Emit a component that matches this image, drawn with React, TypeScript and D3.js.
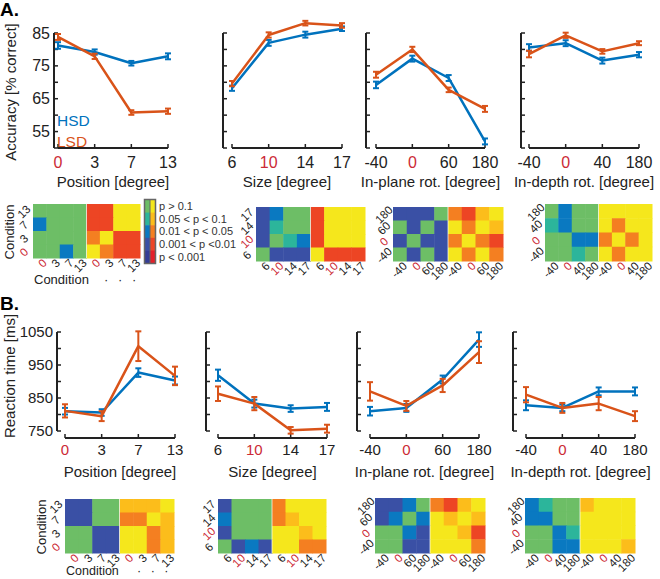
import React from "react";
import * as d3 from "d3";

const FONT = '"Liberation Sans", Arial, Helvetica, sans-serif';
const BLUE = "#0072bd";
const ORANGE = "#d95319";
const REF_RED = "#cc2a36";
const INK = "#222";

// ---- data ----
const categories = [
  ["0", "3", "7", "13"],
  ["6", "10", "14", "17"],
  ["-40", "0", "60", "180"],
  ["-40", "0", "40", "180"],
];
const refIndex = [0, 1, 1, 1];
const xTitles = ["Position [degree]", "Size [degree]", "In-plane rot. [degree]", "In-depth rot. [degree]"];

const accHSD = [
  [81.2, 79.2, 75.8, 77.9],
  [68.2, 82.0, 84.5, 86.3],
  [69.2, 77.2, 71.3, 52.0],
  [80.6, 81.9, 76.6, 78.4],
];
const accLSD = [
  [83.8, 77.9, 60.8, 61.2],
  [69.6, 84.4, 88.0, 87.3],
  [72.3, 80.0, 67.7, 61.9],
  [78.6, 84.3, 79.4, 81.9],
];
const accHSDErr = [
  [1.0, 0.8, 0.7, 0.9],
  [0.8, 0.9, 0.9, 0.7],
  [1.0, 0.9, 0.9, 0.9],
  [1.0, 0.9, 0.9, 0.8],
];
const accLSDErr = [
  [0.9, 0.8, 0.7, 0.8],
  [0.8, 0.8, 0.7, 0.7],
  [0.9, 0.8, 0.7, 0.9],
  [1.0, 0.8, 0.7, 0.6],
];

const rtHSD = [
  [810, 806, 927, 903],
  [919, 833, 818, 823],
  [810, 820, 906, 1027],
  [828, 820, 870, 870],
];
const rtLSD = [
  [811, 795, 1007, 917],
  [863, 833, 752, 757],
  [870, 826, 888, 989],
  [860, 820, 833, 795],
];
const rtHSDErr = [
  [10, 10, 13, 12],
  [17, 12, 10, 12],
  [13, 12, 12, 22],
  [15, 10, 12, 12],
];
const rtLSDErr = [
  [20, 15, 45, 28],
  [22, 20, 10, 12],
  [28, 15, 20, 33],
  [23, 15, 20, 15],
];

const accTicks = d3.range(50, 86, 5);
const accLabels = [55, 65, 75, 85];
const rtTicks = d3.range(750, 1051, 50);
const rtLabels = [750, 850, 950, 1050];

const pLegend = ["p > 0.1", "0.05 < p < 0.1", "0.01 < p < 0.05", "0.001 < p <0.01", "p < 0.001"];

// significance matrices, rows top->bottom (last category first), 4 HSD cols | 4 LSD cols
const heatA = [
  ["ggggrryy", "bgggrryy", "ggggoyrr", "ggbgyorr"],
  ["dbggryyy", "dtggryyy", "dgtbryyy", "gdddyrrr"],
  ["dddgoray", "gdgdyoya", "dgddoyor", "gdgdyoyo"],
  ["gbggyyyy", "tbggyoyy", "ggbboyoy", "ggtgyoyy"],
];
const heatB = [
  ["ddggaaay", "ddggooya", "ggddyyoa", "ggddyyoa"],
  ["dgggoyyy", "bgggoayy", "dgggyyay", "gdbdyyoo"],
  ["ddbgoray", "dbgbyaya", "ggbdyyar", "ggddyyyo"],
  ["btggayyy", "bbggyyyy", "ggbtyyyy", "ggbbyyya"],
];

const cellColors: Record<string, string> = {
  g: "#6dbe66",
  t: "#2cb59b",
  b: "#0a79c1",
  d: "#3a50a5",
  y: "#f5e71c",
  a: "#fcbd1b",
  o: "#f47f21",
  r: "#ed4524",
};
const barLeft = ["#6dbe66", "#2cb59b", "#0a79c1", "#3a50a5", "#343d96"];
const barRight = ["#f5e71c", "#fcbd1b", "#f47f21", "#ed4524", "#e3202a"];

// ---- layout ----
const panelA = {
  yAxisX: [54, 223, 366, 521],
  xRange: [[58, 168], [232, 342], [376, 485], [529, 639]],
  yRange: [148, 33],
  xAxisY: 148,
  tickY: 168,
  titleY: 187,
  tickFont: 16,
};
const panelB = {
  yAxisX: [57, 206, 357, 513],
  xRange: [[65, 175], [218, 327], [370, 479], [526, 635]],
  yRange: [431, 332],
  xAxisY: 438,
  tickY: 455,
  titleY: 477,
  tickFont: 15,
};
const hmA = [[33, 140, 204, 258], [256, 365, 207, 261], [393, 503, 207, 261], [545, 652, 204, 261]];
const hmB = [[65, 174, 499, 553], [218, 326, 499, 553], [375, 485, 498, 553], [525, 635, 498, 553]];

function LinePlot({ p, i, y, ticks, labels, hsd, lsd, hsdErr, lsdErr }: any) {
  const cats = categories[i];
  const x = d3.scalePoint<string>().domain(cats).range(p.xRange[i]);
  const line = d3
    .line<number>()
    .x((_, k) => x(cats[k])!)
    .y((v) => y(v));
  const ax = p.yAxisX[i];
  const series = [
    { vals: hsd[i], err: hsdErr[i], color: BLUE },
    { vals: lsd[i], err: lsdErr[i], color: ORANGE },
  ];
  return (
    <g>
      {/* y axis */}
      <line x1={ax} x2={ax} y1={y(ticks[0])} y2={y(ticks[ticks.length - 1])} stroke={INK} strokeWidth={2} />
      {ticks.map((t: number) => (
        <line key={t} x1={ax} x2={ax + 4} y1={y(t)} y2={y(t)} stroke={INK} strokeWidth={1.5} />
      ))}
      {i === 0 &&
        labels.map((t: number) => (
          <text key={t} x={ax - 4} y={y(t)} dy="0.35em" textAnchor="end" fontSize={p.tickFont} fill={INK}>
            {t}
          </text>
        ))}
      {/* x axis */}
      <line x1={p.xRange[i][0]} x2={p.xRange[i][1]} y1={p.xAxisY} y2={p.xAxisY} stroke={INK} strokeWidth={2} />
      {cats.map((c: string, k: number) => (
        <g key={c + k}>
          <line x1={x(c)} x2={x(c)} y1={p.xAxisY} y2={p.xAxisY - 4} stroke={INK} strokeWidth={1.5} />
          <text x={x(c)} y={p.tickY} textAnchor="middle" fontSize={p.tickFont} fill={k === refIndex[i] ? REF_RED : INK}>
            {c}
          </text>
        </g>
      ))}
      <text x={(p.xRange[i][0] + p.xRange[i][1]) / 2} y={p.titleY} textAnchor="middle" fontSize={15} fill={INK}>
        {xTitles[i]}
      </text>
      {series.map((s, si) => (
        <g key={si}>
          <path d={line(s.vals)!} fill="none" stroke={s.color} strokeWidth={2.5} strokeLinejoin="round" />
          {s.vals.map((v: number, k: number) => {
            const cx = x(cats[k])!;
            const y0 = y(v - s.err[k]);
            const y1 = y(v + s.err[k]);
            return (
              <g key={k} stroke={s.color} strokeWidth={2}>
                <line x1={cx} x2={cx} y1={y0} y2={y1} />
                <line x1={cx - 3} x2={cx + 3} y1={y0} y2={y0} />
                <line x1={cx - 3} x2={cx + 3} y1={y1} y2={y1} />
              </g>
            );
          })}
        </g>
      ))}
    </g>
  );
}

function Heatmap({ box, i, matrix }: any) {
  const [x0, x1, y0, y1] = box;
  const cats = categories[i];
  const cols = [...cats, ...cats];
  const rows = [...cats].reverse();
  const xs = d3.scaleBand<number>().domain(d3.range(8)).range([x0, x1]);
  const ys = d3.scaleBand<number>().domain(d3.range(4)).range([y0, y1]);
  const mid = (x0 + x1) / 2;
  return (
    <g>
      {matrix.map((row: string, r: number) =>
        row.split("").map((code, c) => (
          <rect
            key={r + "-" + c}
            x={xs(c)}
            y={ys(r)}
            width={xs.bandwidth() + 0.5}
            height={ys.bandwidth() + 0.5}
            fill={cellColors[code]}
          />
        ))
      )}
      <line x1={mid} x2={mid} y1={y0} y2={y1} stroke="#fff" strokeWidth={1} opacity={0.7} />
      {rows.map((c, r) => (
        <text
          key={"r" + r}
          transform={`translate(${x0 - 9},${ys(r)! + ys.bandwidth() / 2 + 1}) rotate(-45)`}
          textAnchor="middle"
          dominantBaseline="central"
          fontSize={11.5}
          fill={cats.indexOf(c) === refIndex[i] ? REF_RED : INK}
        >
          {c}
        </text>
      ))}
      {cols.map((c, k) => (
        <text
          key={"c" + k}
          transform={`translate(${xs(k)! + xs.bandwidth() / 2 + 5},${y1 + 3}) rotate(-45)`}
          textAnchor="end"
          dominantBaseline="central"
          fontSize={11.5}
          fill={cats.indexOf(c) === refIndex[i] ? REF_RED : INK}
        >
          {c}
        </text>
      ))}
    </g>
  );
}

export default function App() {
  const yA = d3.scaleLinear().domain([50, 85]).range(panelA.yRange);
  const yB = d3.scaleLinear().domain([750, 1050]).range(panelB.yRange);
  const barY = d3.scaleBand<number>().domain(d3.range(5)).range([200, 263]);
  return (
    <svg
      width={660}
      height={579}
      style={{ position: "absolute", left: 0, top: 0, background: "#fff" }}
      fontFamily={FONT}
    >
      <text x={0} y={16} fontSize={19} fontWeight="bold" fill="#000">
        A.
      </text>
      <text x={0} y={310} fontSize={19} fontWeight="bold" fill="#000">
        B.
      </text>

      <text transform="translate(16,92) rotate(-90)" textAnchor="middle" fontSize={15} fill={INK}>
        Accuracy [% correct]
      </text>
      <text transform="translate(15,376) rotate(-90)" textAnchor="middle" fontSize={15} fill={INK}>
        Reaction time [ms]
      </text>

      {categories.map((_, i) => (
        <LinePlot
          key={"a" + i}
          p={panelA}
          i={i}
          y={yA}
          ticks={accTicks}
          labels={accLabels}
          hsd={accHSD}
          lsd={accLSD}
          hsdErr={accHSDErr}
          lsdErr={accLSDErr}
        />
      ))}
      {categories.map((_, i) => (
        <LinePlot
          key={"b" + i}
          p={panelB}
          i={i}
          y={yB}
          ticks={rtTicks}
          labels={rtLabels}
          hsd={rtHSD}
          lsd={rtLSD}
          hsdErr={rtHSDErr}
          lsdErr={rtLSDErr}
        />
      ))}

      <text x={57} y={126} fontSize={15.5} fill={BLUE}>
        HSD
      </text>
      <text x={57} y={147} fontSize={15.5} fill={ORANGE}>
        LSD
      </text>

      {categories.map((_, i) => (
        <Heatmap key={"ha" + i} box={hmA[i]} i={i} matrix={heatA[i]} />
      ))}
      {categories.map((_, i) => (
        <Heatmap key={"hb" + i} box={hmB[i]} i={i} matrix={heatB[i]} />
      ))}

      {/* colour key */}
      <g>
        {pLegend.map((lab, k) => (
          <g key={lab}>
            <rect x={145} y={barY(k)} width={5} height={barY.bandwidth() + 0.5} fill={barLeft[k]} />
            <rect x={150} y={barY(k)} width={5} height={barY.bandwidth() + 0.5} fill={barRight[k]} />
            <text x={159} y={barY(k)! + barY.bandwidth() / 2} dy="0.35em" fontSize={11} fill="#333">
              {lab}
            </text>
          </g>
        ))}
        <rect x={144.5} y={199.5} width={11} height={64} fill="none" stroke="#666" strokeWidth={1.5} />
        <line x1={150} x2={150} y1={200} y2={263} stroke="#666" strokeWidth={1} />
      </g>

      <text transform="translate(14,232) rotate(-90)" textAnchor="middle" fontSize={13} fill={INK}>
        Condition
      </text>
      <text x={34} y={284} fontSize={13} fill={INK}>
        Condition
      </text>
      <text x={104} y={284} fontSize={13} fill={INK} letterSpacing={3}>
        · · ·
      </text>
      <text transform="translate(46,527) rotate(-90)" textAnchor="middle" fontSize={13} fill={INK}>
        Condition
      </text>
      <text x={66} y={575} fontSize={12.5} fill={INK}>
        Condition
      </text>
      <text x={137} y={575} fontSize={12.5} fill={INK} letterSpacing={3}>
        · · ·
      </text>
    </svg>
  );
}
